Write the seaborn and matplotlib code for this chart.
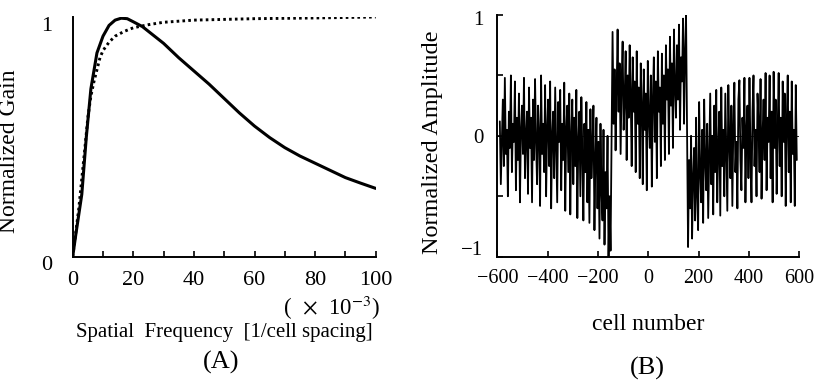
import numpy as np
import pandas as pd
import matplotlib
matplotlib.use("Agg")
import matplotlib.pyplot as plt
import matplotlib.transforms as mtransforms
import seaborn as sns

# ---------------- data ----------------
# Panel A: normalized gain vs spatial frequency (x 1e-3)
freq_solid = [0, 1, 3, 4.5, 6, 8, 10, 12, 14, 16, 18, 20, 23, 26, 30, 35, 40,
              45, 50, 55, 60, 65, 70, 75, 80, 85, 90, 95, 100]
gain_solid = [0.0, 0.09, 0.26, 0.50, 0.70, 0.85, 0.92, 0.965, 0.987, 0.995,
              0.993, 0.98, 0.96, 0.93, 0.89, 0.83, 0.775, 0.72, 0.66, 0.60,
              0.545, 0.497, 0.455, 0.42, 0.39, 0.36, 0.33, 0.307, 0.285]
freq_dotted = [0, 2, 4, 5, 6, 7, 8, 9, 10, 12, 14, 17, 20, 25, 30, 40, 50,
               60, 80, 100]
gain_dotted = [0.0, 0.20, 0.45, 0.58, 0.67, 0.73, 0.78, 0.83, 0.86, 0.895,
               0.92, 0.94, 0.955, 0.968, 0.978, 0.987, 0.99, 0.993, 0.996,
               1.0]

# Panel B: normalized amplitude vs cell number (three segments, every 4 cells)
seg1_start, seg1_step = -590, 4
seg1_vals = [
    0.12, -0.40, -0.05, 0.30, -0.25, 0.48, -0.15, 0.05, -0.50, 0.20,
    -0.10, 0.50, -0.30, 0.10, -0.05, 0.45, -0.45, 0.15, -0.20, 0.35,
    -0.55, 0.05, 0.25, -0.15, 0.48, -0.35, 0.00, 0.20, -0.48, 0.40,
    -0.10, 0.15, -0.55, 0.30, -0.20, 0.47, -0.05, -0.40, 0.25, 0.02,
    -0.58, 0.50, -0.15, 0.10, -0.30, 0.42, -0.50, 0.05, 0.30, -0.25,
    0.45, -0.60, 0.00, 0.20, -0.35, 0.40, -0.10, -0.55, 0.28, -0.05,
    0.38, -0.45, 0.10, -0.20, 0.44, -0.62, 0.05, 0.25, -0.30, 0.35,
    -0.65, 0.00, 0.30, -0.40, 0.15, -0.25, 0.38, -0.68, -0.05, 0.20,
    -0.50, 0.32, -0.15, -0.70, 0.10, -0.30, 0.28, -0.55, 0.05, -0.72,
    0.22, -0.35, -0.10, 0.25, -0.78, -0.20, 0.15, -0.60, -0.05, -0.85,
    0.10, -0.45, -0.70, 0.05, -0.90, -0.30, -0.60, 0.00, -1.00, -0.50, -0.95,
]
seg2_start, seg2_step = -142, 4
seg2_vals = [
    0.86, 0.10, 0.55, -0.12, 0.35, 0.88, 0.20, 0.60, -0.15, 0.45,
    0.78, 0.05, 0.30, 0.70, -0.20, 0.50, 0.15, 0.75, 0.35, -0.25,
    0.65, 0.20, 0.45, -0.30, 0.70, 0.10, 0.40, -0.35, 0.60, 0.25,
    -0.40, 0.55, 0.05, 0.35, -0.45, 0.62, 0.15, -0.10, 0.50, -0.42,
    0.30, 0.65, -0.05, 0.45, -0.35, 0.70, 0.20, 0.40, -0.25, 0.68,
    0.10, 0.50, -0.20, 0.75, 0.30, 0.55, -0.15, 0.82, 0.25, 0.60,
    -0.10, 0.88, 0.40, 0.15, 0.75, 0.30, 0.92, 0.05, 0.65, 0.45,
    0.97, 0.10, 0.70, 1.00,
]
seg3_start, seg3_step = 158, 4
seg3_vals = [
    -0.92, -0.20, -0.60, 0.00, -0.85, -0.35, -0.10, -0.70, 0.15, -0.50,
    -0.78, 0.28, -0.30, -0.55, 0.05, -0.72, 0.30, -0.20, -0.45, 0.10,
    -0.68, -0.15, 0.35, -0.40, 0.00, -0.65, 0.25, -0.30, 0.38, -0.55,
    -0.10, 0.20, -0.66, 0.40, -0.25, 0.05, -0.50, 0.35, -0.15, -0.62,
    0.42, -0.05, -0.35, 0.25, -0.58, 0.10, 0.44, -0.30, -0.05, -0.60,
    0.30, 0.46, -0.20, -0.45, 0.15, -0.10, 0.48, -0.55, 0.05, 0.25,
    -0.35, 0.48, -0.15, -0.55, 0.20, 0.50, -0.25, 0.05, -0.50, 0.35,
    0.10, -0.30, 0.47, -0.52, 0.00, 0.30, -0.20, 0.52, -0.45, 0.15,
    -0.05, 0.50, -0.35, 0.20, -0.55, 0.53, -0.10, 0.30, -0.48, 0.05,
    0.52, -0.25, 0.15, -0.50, 0.45, -0.05, 0.35, -0.58, 0.10, 0.50,
    -0.30, 0.20, -0.55, 0.45, -0.15, 0.05, -0.58, 0.42, -0.20,
]

xticks_a = [0, 20, 40, 60, 80, 100]
xticks_b = [-600, -400, -200, 0, 200, 400, 600]

# ---------------- style ----------------
sns.set_theme(style="white")
plt.rcParams["font.family"] = ["Liberation Serif", "DejaVu Serif"]
plt.rcParams["mathtext.fontset"] = "stix"
plt.rcParams["axes.unicode_minus"] = True

W, H = 814, 383
fig = plt.figure(figsize=(W / 100, H / 100), dpi=100)
fig.patch.set_facecolor("white")


def ax_rect(x0, x1, ytop, ybot):
    return [x0 / W, 1 - ybot / H, (x1 - x0) / W, (ybot - ytop) / H]


def ftext(x, y, s, **kw):
    fig.text(x / W, 1 - y / H, s, ha="center", va="center", color="black", **kw)


def shift_label(lbl, dy_px):
    lbl.set_transform(lbl.get_transform() +
                      mtransforms.ScaledTranslation(0, -dy_px / 100,
                                                    fig.dpi_scale_trans))


# ---------------- panel A ----------------
axA = fig.add_axes(ax_rect(72.7, 375.7, 17, 256.7))
sns.lineplot(x=freq_solid, y=gain_solid, ax=axA, color="black", lw=2.2,
             estimator=None, sort=False)
sns.lineplot(x=freq_dotted, y=gain_dotted, ax=axA, color="black", lw=2.1,
             estimator=None, sort=False, linestyle=(0, (0.9, 1.1)))
axA.set_xlim(0, 100)
axA.set_ylim(0, 1.0)
axA.set_xticks(xticks_a)
axA.set_xticks(np.arange(0, 101, 10), minor=True)
axA.set_yticks([0, 1])
axA.set_yticklabels(["0", "1"])
axA.tick_params(axis="x", which="both", direction="in", length=4, width=1.2,
                bottom=True, pad=10, labelsize=16, colors="black")
axA.tick_params(axis="y", which="both", length=0, pad=15, labelsize=16,
                colors="black")
for s in ["top", "right"]:
    axA.spines[s].set_visible(False)
for s in ["left", "bottom"]:
    axA.spines[s].set_color("black")
    axA.spines[s].set_linewidth(1.4)
axA.set_xlabel("")
axA.set_ylabel("Normalized Gain", fontsize=17, color="black")
axA.yaxis.set_label_coords(-0.175, 0.44)
ylabsA = axA.get_yticklabels()
shift_label(ylabsA[0], 6)
shift_label(ylabsA[1], 7)

ftext(331, 308, r"(  $\times$  10$^{-3}$)", fontsize=16.5)
ftext(224, 333, "Spatial  Frequency  [1/cell spacing]", fontsize=15)
ftext(221, 362, "(A)", fontsize=19)

# ---------------- panel B ----------------
cells = np.concatenate([
    seg1_start + seg1_step * np.arange(len(seg1_vals)),
    seg2_start + seg2_step * np.arange(len(seg2_vals)),
    seg3_start + seg3_step * np.arange(len(seg3_vals)),
])
amp = np.array(seg1_vals + seg2_vals + seg3_vals)
dfB = pd.DataFrame({"cell": cells, "amp": amp})

axB = fig.add_axes(ax_rect(497.3, 799.3, 15, 256.7))
axB.axhline(0, color="black", lw=0.6, zorder=1)
sns.lineplot(data=dfB, x="cell", y="amp", ax=axB, color="black", lw=1.3,
             estimator=None, sort=False, zorder=2)
axB.set_xlim(-600, 600)
axB.set_ylim(-1, 1)
axB.set_xticks(xticks_b)
axB.set_yticks([-1, -0.5, 0, 0.5, 1])
axB.set_yticklabels(["\u22121", "", "0", "", "1"])
axB.tick_params(axis="x", direction="in", length=4, width=1.2, bottom=True,
                pad=9, labelsize=14.5, colors="black")
axB.tick_params(axis="y", direction="in", length=4, width=1.2, left=True,
                pad=10, labelsize=15, colors="black")
for s in ["top", "right"]:
    axB.spines[s].set_visible(False)
for s in ["left", "bottom"]:
    axB.spines[s].set_color("black")
    axB.spines[s].set_linewidth(1.4)
axB.set_xlabel("")
axB.set_ylabel("Normalized Amplitude", fontsize=17.5, color="black")
axB.yaxis.set_label_coords(-0.18, 0.475)
ylabsB = axB.get_yticklabels()
shift_label(ylabsB[0], -9)
shift_label(ylabsB[4], 3)

ftext(648, 325, "cell number", fontsize=17)
ftext(647, 368, "(B)", fontsize=19)

fig.savefig("out.png", dpi=100, facecolor="white")
